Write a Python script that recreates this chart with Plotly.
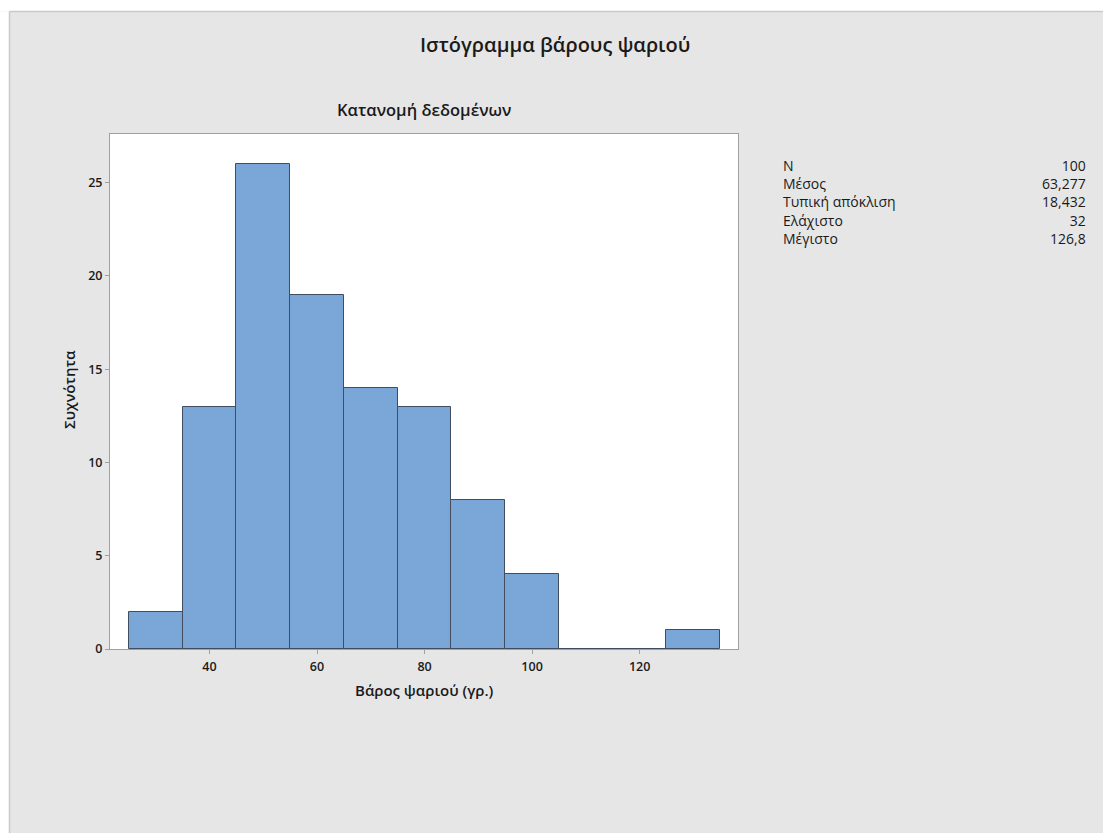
import plotly.graph_objects as go

# ---- data ----
bin_centers = [30, 40, 50, 60, 70, 80, 90, 100, 110, 120, 130]
counts = [2, 13, 26, 19, 14, 13, 8, 4, 0, 0, 1]
bin_width = 10
x_ticks = [40, 60, 80, 100, 120]
y_ticks = [0, 5, 10, 15, 20, 25]
stat_labels = ["N", "Μέσος", "Τυπική απόκλιση", "Ελάχιστο", "Μέγιστο"]
stat_values = ["100", "63,277", "18,432", "32", "126,8"]

title = "Ιστόγραμμα βάρους ψαριού"
subtitle = "Κατανομή δεδομένων"
x_title = "Βάρος ψαριού (γρ.)"
y_title = "Συχνότητα"

# ---- layout geometry (screen pixels; body margin removed) ----
W, H = 1103, 833
L, T = 110, 134
PW, PH = 628, 515
R = W - L - PW
B = H - T - PH


def fx(sx):
    """screen x -> paper x"""
    return (sx - L) / PW


def fy(sy):
    """screen y -> paper y"""
    return (T + PH - sy) / PH


FONT = "Open Sans"
TXT = "#1a1a1a"
BAR_FILL = "#7ba7d8"
BAR_EDGE = "#3f4d5f"

fig = go.Figure()
fig.add_trace(go.Bar(
    x=bin_centers, y=counts, width=[bin_width] * len(counts),
    marker=dict(color=BAR_FILL, line=dict(color=BAR_EDGE, width=1)),
    hoverinfo="x+y", showlegend=False,
))

# outline along baseline for empty bins (derived from data)
zx, zy = [], []
for c, n in zip(bin_centers, counts):
    if n == 0:
        zx += [c - bin_width / 2, c + bin_width / 2, None]
        zy += [0, 0, None]
if zx:
    fig.add_trace(go.Scatter(x=zx, y=zy, mode="lines",
                             line=dict(color=BAR_EDGE, width=1.5),
                             hoverinfo="skip", showlegend=False, cliponaxis=False))

STAT_SIZE = 14
annotations = [
    dict(text=title, x=fx(555), y=fy(45), xref="paper", yref="paper",
         showarrow=False, xanchor="center", yanchor="middle",
         font=dict(family=FONT, size=20, color=TXT, weight=600)),
    dict(text=subtitle, x=0.5, y=fy(109), xref="paper", yref="paper",
         showarrow=False, xanchor="center", yanchor="middle",
         font=dict(family=FONT, size=16.5, color=TXT, weight=600)),
    dict(text=x_title, x=0.5, y=fy(690), xref="paper", yref="paper",
         showarrow=False, xanchor="center", yanchor="middle",
         font=dict(family=FONT, size=15, color=TXT, weight=600)),
    dict(text=y_title, x=fx(69), y=fy(390), xref="paper", yref="paper",
         showarrow=False, xanchor="center", yanchor="middle", textangle=-90,
         font=dict(family=FONT, size=15, color=TXT, weight=600)),
    # statistics table: one block of labels, one block of values
    dict(text="<br>".join(stat_labels), x=fx(781), y=fy(154), xref="paper", yref="paper",
         showarrow=False, xanchor="left", yanchor="top", align="left",
         font=dict(family=FONT, size=STAT_SIZE, color=TXT)),
    dict(text="<br>".join(stat_values), x=fx(1088), y=fy(154), xref="paper", yref="paper",
         showarrow=False, xanchor="right", yanchor="top", align="right",
         font=dict(family=FONT, size=STAT_SIZE, color=TXT)),
]

shapes = [
    # white strip at top and left (outside the gray panel)
    dict(type="rect", xref="paper", yref="paper", x0=fx(-10), x1=fx(W + 20),
         y0=fy(11.5), y1=fy(-10), fillcolor="white", line=dict(width=0), layer="below"),
    dict(type="rect", xref="paper", yref="paper", x0=fx(-10), x1=fx(9.5),
         y0=fy(H + 20), y1=fy(11.5), fillcolor="white", line=dict(width=0), layer="below"),
    # panel border (top and left edges)
    dict(type="line", xref="paper", yref="paper", x0=fx(9.5), x1=fx(W + 20),
         y0=fy(11.5), y1=fy(11.5), line=dict(color="#c9c9c9", width=1.5), layer="below"),
    dict(type="line", xref="paper", yref="paper", x0=fx(9.5), x1=fx(9.5),
         y0=fy(11.5), y1=fy(H + 20), line=dict(color="#c9c9c9", width=1.5), layer="below"),
]

axis_common = dict(showgrid=False, zeroline=False, showline=True, linecolor="#a0a0a0",
                   linewidth=1, mirror=True, ticks="outside", ticklen=4, tickcolor="#a0a0a0",
                   tickfont=dict(family=FONT, size=12.5, color=TXT, weight=600))

fig.update_layout(
    width=W, height=H, margin=dict(l=L, r=R, t=T, b=B, autoexpand=False),
    paper_bgcolor="#e6e6e6", plot_bgcolor="white",
    bargap=0, showlegend=False,
    xaxis=dict(range=[21.5, 138.3], tickvals=x_ticks, ticklabelstandoff=2, **axis_common),
    yaxis=dict(range=[0, 27.61], tickvals=y_ticks, **axis_common),
    annotations=annotations, shapes=shapes,
)

fig.write_html("out.html", config={"displayModeBar": False},
               post_script="document.body.style.margin='0';document.body.style.overflow='hidden';")
